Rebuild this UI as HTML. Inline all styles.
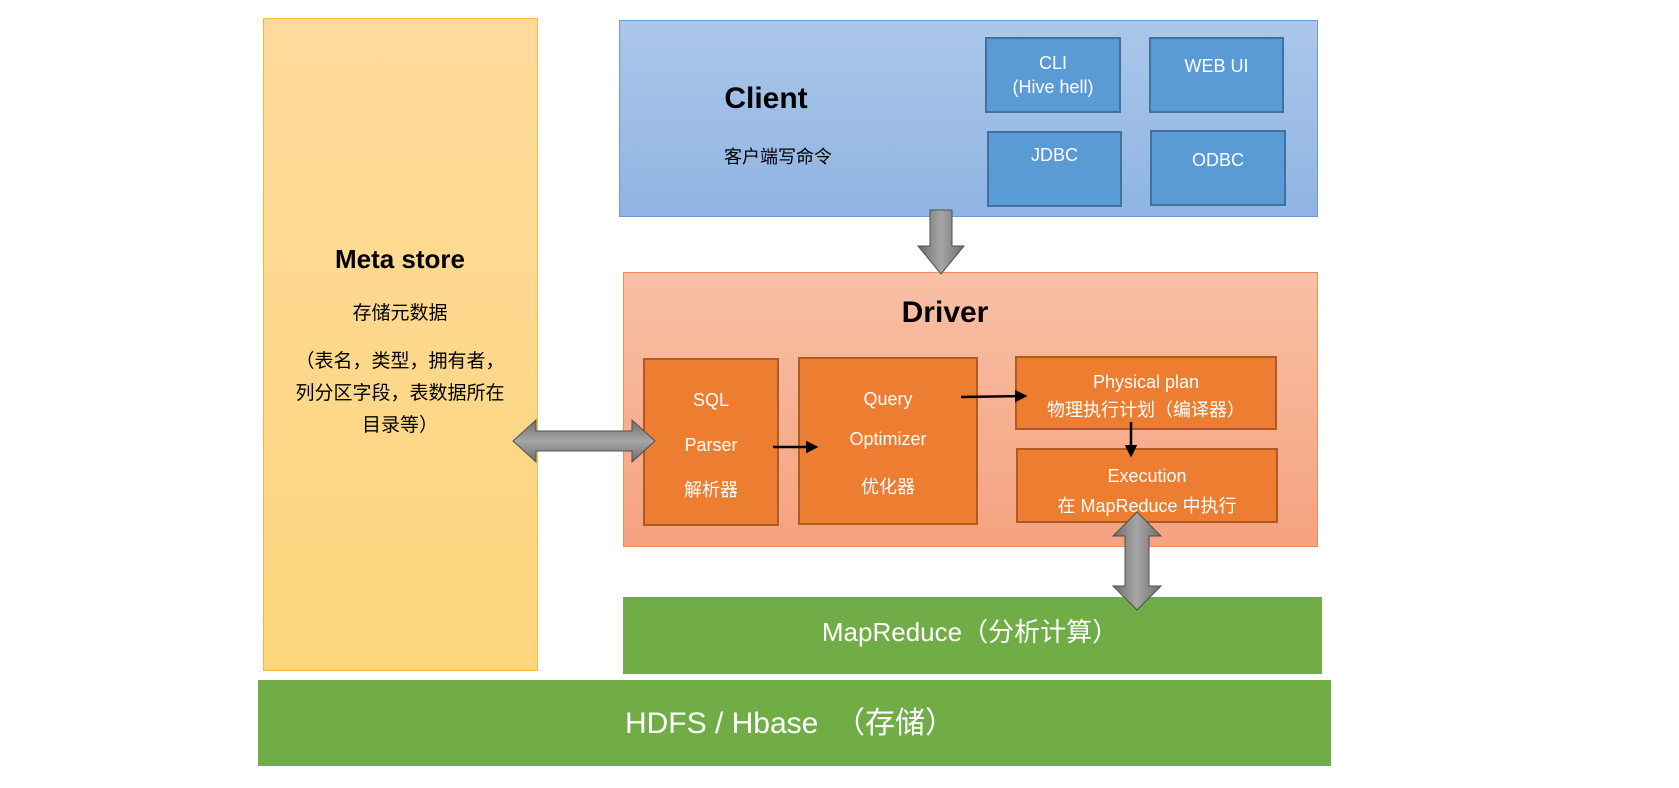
<!DOCTYPE html>
<html><head><meta charset="utf-8"><style>
body{margin:0;width:1679px;height:788px;background:#fff;position:relative;overflow:hidden;font-family:"Liberation Sans","Noto Sans CJK SC",sans-serif}
.a{position:absolute;box-sizing:border-box}
.t{position:absolute;white-space:nowrap;text-align:center;transform:translateX(-50%)}
.ob{background:#ed7d31;border:2px solid #ae5a21;color:#fff;font-size:18px;text-align:center}
.bb{background:#5b9bd5;border:2px solid #41719c;color:#fff;font-size:18px;text-align:center}
</style></head><body>
<div class="a" style="left:263px;top:18px;width:275px;height:653px;background:linear-gradient(#fedb9c,#fdd57c);border:1px solid #f4b942"></div>
<div class="t" style="left:400px;top:244px;font-size:26px;font-weight:bold">Meta store</div>
<div class="t" style="left:400px;top:298px;font-size:19px">存储元数据</div>
<div class="t" style="left:400px;top:346px;font-size:19px;line-height:32px">（表名，类型，拥有者，<br>列分区字段，表数据所在<br>目录等）</div>

<div class="a" style="left:619px;top:20px;width:699px;height:197px;background:linear-gradient(#abc7e9,#8fb4e3);border:1px solid #6f9bd1"></div>
<div class="t" style="left:766px;top:82px;font-size:30px;font-weight:bold">Client</div>
<div class="t" style="left:778px;top:143px;font-size:18px">客户端写命令</div>
<div class="a bb" style="left:985px;top:37px;width:136px;height:76px;padding-top:12px;line-height:24px">CLI<br>(Hive hell)</div>
<div class="a bb" style="left:1149px;top:37px;width:135px;height:76px;padding-top:17px">WEB UI</div>
<div class="a bb" style="left:987px;top:131px;width:135px;height:76px;padding-top:12px">JDBC</div>
<div class="a bb" style="left:1150px;top:130px;width:136px;height:76px;padding-top:18px">ODBC</div>

<div class="a" style="left:623px;top:272px;width:695px;height:275px;background:linear-gradient(#f8c0a5,#f5a27f);border:1px solid #ee8c5a"></div>
<div class="t" style="left:945px;top:296px;font-size:30px;font-weight:bold">Driver</div>
<div class="a ob" style="left:643px;top:358px;width:136px;height:168px;padding-top:18px;line-height:45px">SQL<br>Parser<br>解析器</div>
<div class="a ob" style="left:798px;top:357px;width:180px;height:168px;padding-top:20px;line-height:40px">Query<br>Optimizer<br><span style="line-height:56px">优化器</span></div>
<div class="a ob" style="left:1015px;top:356px;width:262px;height:74px;padding-top:10px;line-height:28px">Physical plan<br>物理执行计划（编译器）</div>
<div class="a ob" style="left:1016px;top:448px;width:262px;height:75px;padding-top:11px;line-height:30px">Execution<br>在 MapReduce 中执行</div>

<div class="a" style="left:623px;top:597px;width:699px;height:77px;background:#70ad47"></div>
<div class="t" style="left:970px;top:612px;font-size:26px;color:#fff">MapReduce（分析计算）</div>
<div class="a" style="left:258px;top:680px;width:1073px;height:86px;background:#70ad47"></div>
<div class="t" style="left:790px;top:698px;font-size:30px;color:#fff">HDFS / Hbase &nbsp;（存储）</div>

<svg class="a" style="left:0;top:0" width="1679" height="788">
<defs><linearGradient id="g" x1="0" x2="1"><stop offset="0" stop-color="#6d6d6d"/><stop offset=".5" stop-color="#a6a6a6"/><stop offset="1" stop-color="#6d6d6d"/></linearGradient>
<linearGradient id="gv" x1="0" y1="0" x2="0" y2="1"><stop offset="0" stop-color="#6d6d6d"/><stop offset=".5" stop-color="#a6a6a6"/><stop offset="1" stop-color="#6d6d6d"/></linearGradient>
<marker id="m" markerWidth="5" markerHeight="5" refX="4" refY="2.5" orient="auto"><path d="M0,0L5,2.5L0,5z" fill="#000"/></marker></defs>
<path d="M930,210h22v36h12l-23,28l-23,-28h12z" fill="url(#g)" stroke="#505050"/>
<path d="M513,441l23,-21v11h96v-11l23,21l-23,21v-11h-96v11z" fill="url(#gv)" stroke="#505050"/>
<path d="M1137,512l24,24h-12v50h12l-24,24l-24,-24h12v-50h-12z" fill="url(#g)" stroke="#505050"/>
<line x1="773" y1="447" x2="816" y2="447" stroke="#000" stroke-width="2.5" marker-end="url(#m)"/>
<line x1="961" y1="397" x2="1025" y2="396" stroke="#000" stroke-width="2.5" marker-end="url(#m)"/>
<line x1="1131" y1="422" x2="1131" y2="455" stroke="#000" stroke-width="2.5" marker-end="url(#m)"/>
</svg>
</body></html>
